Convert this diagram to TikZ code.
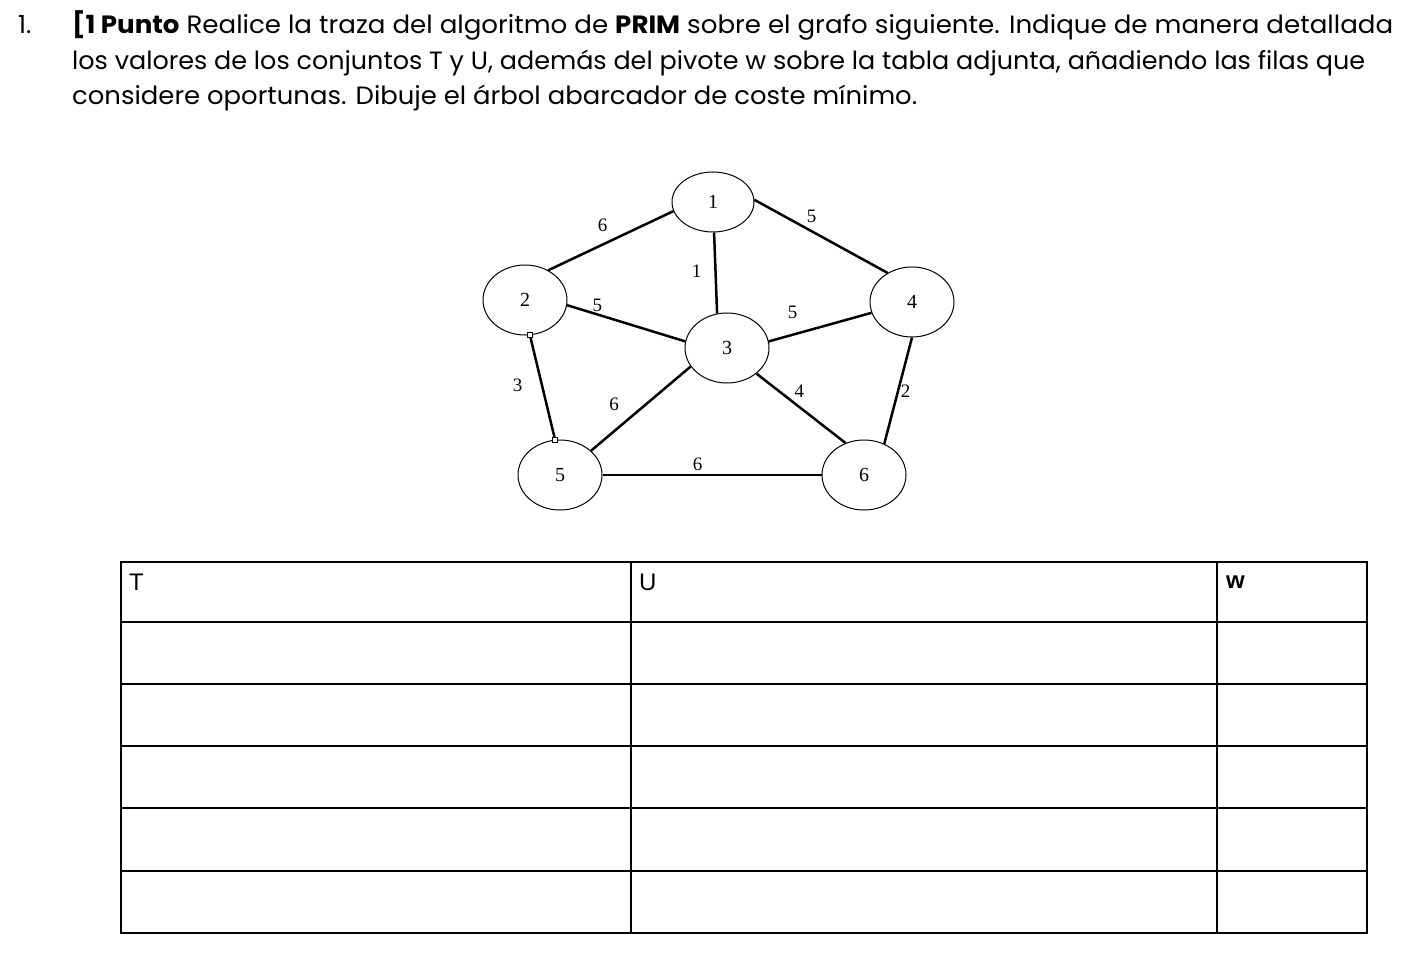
\documentclass[tikz,border=0pt]{standalone}
\usepackage{fontspec}
\usepackage{graphicx}
\setmainfont{Poppins}
\newfontfamily\tabfont{Liberation Sans}
\newfontfamily\grfont{Liberation Serif}
\usetikzlibrary{shapes.geometric}
\begin{document}
\begin{tikzpicture}[x=1pt,y=-1pt,
  txt/.style={anchor=base west,inner sep=0pt,font=\fontsize{25}{30}\selectfont},
  vert/.style={draw,ellipse,line width=1pt,minimum width=84pt,minimum height=70pt,inner sep=0pt,font=\grfont\fontsize{20}{24}\selectfont},
  edge/.style={line width=2.5pt},
  elab/.style={inner sep=0pt,font=\grfont\fontsize{19}{22}\selectfont},
  sq/.style={draw,fill=white,line width=0.7pt,minimum size=5pt,inner sep=0pt},
  grid/.style={line width=2pt},
  hd/.style={anchor=base west,inner sep=0pt,font=\tabfont\fontsize{24}{28}\selectfont}]
\useasboundingbox (0,0) rectangle (1428,960);
\fill[white] (0,0) rectangle (1428,960);
% heading text
\node[txt] (num) at (18,34) {1.};
\node[txt] (l1) at (72,34) {\resizebox{1321pt}{\height}{{\bfseries [1 Punto} Realice la traza del algoritmo de {\bfseries PRIM} sobre el grafo siguiente. Indique de manera detallada}};
\node[txt] (l2) at (72,70) {\resizebox{1293pt}{\height}{los valores de los conjuntos T y U, además del pivote w sobre la tabla adjunta, añadiendo las filas que}};
\node[txt] (l3) at (72,105) {\resizebox{845pt}{\height}{considere oportunas. Dibuje el árbol abarcador de coste mínimo.}};
% graph
\node[vert,minimum width=82pt,minimum height=60pt] (n1) at (713,202) {1};
\node[vert] (n2) at (525,300) {2};
\node[vert] (n3) at (727,348) {3};
\node[vert] (n4) at (912,302) {4};
\node[vert] (n5) at (560,475) {5};
\node[vert] (n6) at (864,475) {6};
\draw[edge] (n1.193) -- (n2.52);
\draw[edge] (n1.3) -- (n4.130);
\draw[edge] (n1.272) -- (n3.106);
\draw[edge] (n2.353) -- (n3.171);
\draw[edge] (n3.9) -- (n4.195);
\draw[edge] (n2.278) -- (n5.98);
\draw[edge] (n3.207) -- (n5.38);
\draw[edge] (n3.319) -- (n6.120);
\draw[edge] (n4.270) -- (n6.57);
\draw[edge] (n5.east) -- (n6.west);
\node[sq] (s1) at (n2.278) {};
\node[sq] (s2) at (n5.98) {};
\node[elab] (e12) at (602.7,225) {6};
\node[elab] (e14) at (811.7,216.7) {5};
\node[elab] (e13) at (696.7,271.7) {1};
\node[elab] (e23) at (597.3,305.7) {5};
\node[elab] (e34) at (792.7,312.7) {5};
\node[elab] (e25) at (517.7,385) {3};
\node[elab] (e35) at (614,404) {6};
\node[elab] (e36) at (799.3,391.7) {4};
\node[elab] (e46) at (905.7,391) {2};
\node[elab] (e56) at (697.7,464) {6};
% table
\draw[grid] (121,562) rectangle (1367,933);
\foreach \yy in {622,684,746,808,871} \draw[grid] (121,\yy) -- (1367,\yy);
\draw[grid] (631,562) -- (631,933);
\draw[grid] (1217,562) -- (1217,933);
\node[hd] (hT) at (129,590) {T};
\node[hd] (hU) at (639,590) {U};
\node[hd,font=\tabfont\bfseries\fontsize{24}{28}\selectfont] (hw) at (1226,588) {w};
\end{tikzpicture}
\end{document}
